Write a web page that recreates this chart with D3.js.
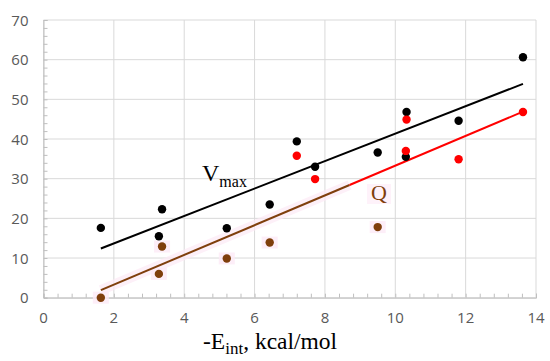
<!DOCTYPE html>
<html>
<head>
<meta charset="utf-8">
<script src="https://cdn.jsdelivr.net/npm/d3@7"></script>
<style>
  body { margin: 0; background: #fff; }
  svg { display: block; }
</style>
</head>
<body>
<script>
// data
var eint = [1.63, 3.37, 3.28, 5.21, 6.43, 7.2, 7.72, 9.5, 10.32, 10.3, 11.8, 13.63];
var vmax = [17.6, 22.3, 15.5, 17.5, 23.5, 39.4, 33.0, 36.6, 46.8, 35.5, 44.6, 60.6];
var qEint = [1.63, 3.28, 3.37, 5.21, 6.43, 7.2, 7.72, 9.5, 10.32, 10.3, 11.8, 13.63];
var qVals = [0, 6.0, 12.9, 9.9, 13.9, 35.8, 29.9, 17.8, 44.9, 37.0, 34.9, 46.8];
var qBrown = [true, true, true, true, true, false, false, true, false, false, false, false];
var vmaxFit = [[1.63, 12.4], [13.63, 53.9]];
var qFit = [[1.63, 1.9], [13.63, 46.9]];
var qBrownUntil = 8.7; // the Q trend line turns from brown to red here
var xTicks = [0, 2, 4, 6, 8, 10, 12, 14];
var yTicks = [0, 10, 20, 30, 40, 50, 60, 70];

var W = 550, H = 361;
var brown = '#7f3f0c', pink = '#fdeaf6';

var svg = d3.select('body').append('svg')
    .attr('width', W)
    .attr('height', H);

var x = d3.scaleLinear().domain([0, 14]).range([43.5, 536]);
var y = d3.scaleLinear().domain([0, 70]).range([297.7, 20]);

// grid
svg.append('g').selectAll('line')
    .data(yTicks).enter().append('line')
    .attr('x1', x(0)).attr('x2', x(14))
    .attr('y1', function(d) { return y(d); })
    .attr('y2', function(d) { return y(d); })
    .attr('stroke', '#d9d9d9').attr('stroke-width', 1);
svg.append('g').selectAll('line')
    .data(xTicks).enter().append('line')
    .attr('y1', y(0)).attr('y2', y(70))
    .attr('x1', function(d) { return x(d); })
    .attr('x2', function(d) { return x(d); })
    .attr('stroke', '#d9d9d9').attr('stroke-width', 1);

// minor ticks, drawn inward
var xAxis = d3.axisBottom(x).tickValues(d3.range(0, 14.01, 0.4)).tickSize(-4).tickFormat('');
var yAxis = d3.axisLeft(y).tickValues(d3.range(0, 70.01, 2)).tickSize(-4).tickFormat('');
var gx = svg.append('g').attr('transform', 'translate(0,' + y(0) + ')').call(xAxis);
var gy = svg.append('g').attr('transform', 'translate(' + x(0) + ',0)').call(yAxis);
[gx, gy].forEach(function(g) {
    g.select('.domain').attr('stroke', '#bfbfbf');
    g.selectAll('.tick line').attr('stroke', '#bfbfbf');
});

// tick labels
svg.append('g').selectAll('text')
    .data(yTicks).enter().append('text')
    .attr('x', 28.5)
    .attr('y', function(d) { return y(d) + 5.5; })
    .attr('text-anchor', 'end')
    .attr('font-family', 'Open Sans, sans-serif')
    .attr('font-size', 15)
    .attr('fill', '#595959')
    .text(function(d) { return d; });
svg.append('g').selectAll('text')
    .data(xTicks).enter().append('text')
    .attr('x', function(d) { return x(d); })
    .attr('y', 323)
    .attr('text-anchor', 'middle')
    .attr('font-family', 'Open Sans, sans-serif')
    .attr('font-size', 15)
    .attr('fill', '#595959')
    .text(function(d) { return d; });

// pale pink halos round the brown marks
var qSplit = qFit[0][1] + (qFit[1][1] - qFit[0][1]) * (qBrownUntil - qFit[0][0]) / (qFit[1][0] - qFit[0][0]);
svg.append('line')
    .attr('x1', x(qFit[0][0])).attr('y1', y(qFit[0][1]))
    .attr('x2', x(qBrownUntil)).attr('y2', y(qSplit))
    .attr('stroke', pink).attr('stroke-width', 10).attr('opacity', 0.7);
var brownIdx = d3.range(qVals.length).filter(function(i) { return qBrown[i]; });
svg.append('g').selectAll('rect')
    .data(brownIdx).enter().append('rect')
    .attr('x', function(i) { return x(qEint[i]) - 8; })
    .attr('y', function(i) { return y(qVals[i]) - 6; })
    .attr('width', 16).attr('height', 12)
    .attr('fill', pink).attr('opacity', 0.8);
svg.append('rect')
    .attr('x', 367).attr('y', 184).attr('width', 24).attr('height', 20)
    .attr('fill', pink).attr('opacity', 0.6);

// trend lines
svg.append('line')
    .attr('x1', x(vmaxFit[0][0])).attr('y1', y(vmaxFit[0][1]))
    .attr('x2', x(vmaxFit[1][0])).attr('y2', y(vmaxFit[1][1]))
    .attr('stroke', '#000').attr('stroke-width', 2);
svg.append('line')
    .attr('x1', x(qFit[0][0])).attr('y1', y(qFit[0][1]))
    .attr('x2', x(qBrownUntil)).attr('y2', y(qSplit))
    .attr('stroke', brown).attr('stroke-width', 2);
svg.append('line')
    .attr('x1', x(qBrownUntil)).attr('y1', y(qSplit))
    .attr('x2', x(qFit[1][0])).attr('y2', y(qFit[1][1]))
    .attr('stroke', '#ff0000').attr('stroke-width', 2);

// points
svg.append('g').selectAll('circle')
    .data(eint).enter().append('circle')
    .attr('cx', function(d) { return x(d); })
    .attr('cy', function(d, i) { return y(vmax[i]); })
    .attr('r', 4.2)
    .attr('fill', '#000');
svg.append('g').selectAll('circle')
    .data(qEint).enter().append('circle')
    .attr('cx', function(d) { return x(d); })
    .attr('cy', function(d, i) { return y(qVals[i]); })
    .attr('r', 4.2)
    .attr('fill', function(d, i) { return qBrown[i] ? brown : '#ff0000'; });

// series labels
var vl = svg.append('text')
    .attr('x', 202).attr('y', 181)
    .attr('font-family', 'Liberation Serif, Times New Roman, serif')
    .attr('font-size', 24)
    .attr('fill', '#000');
vl.append('tspan').text('V');
vl.append('tspan').attr('dy', 6).attr('font-size', 16).text('max');

svg.append('text')
    .attr('x', 371).attr('y', 200)
    .attr('font-family', 'Liberation Serif, Times New Roman, serif')
    .attr('font-size', 22)
    .attr('fill', brown)
    .text('Q');

// axis title
var xt = svg.append('text')
    .attr('x', 203).attr('y', 348.5)
    .attr('font-family', 'Liberation Serif, Times New Roman, serif')
    .attr('font-size', 23.5)
    .attr('fill', '#000');
xt.append('tspan').text('-E');
xt.append('tspan').attr('dy', 5).attr('font-size', 17).text('int');
xt.append('tspan').attr('dy', -5).text(', kcal/mol');
</script>
</body>
</html>
